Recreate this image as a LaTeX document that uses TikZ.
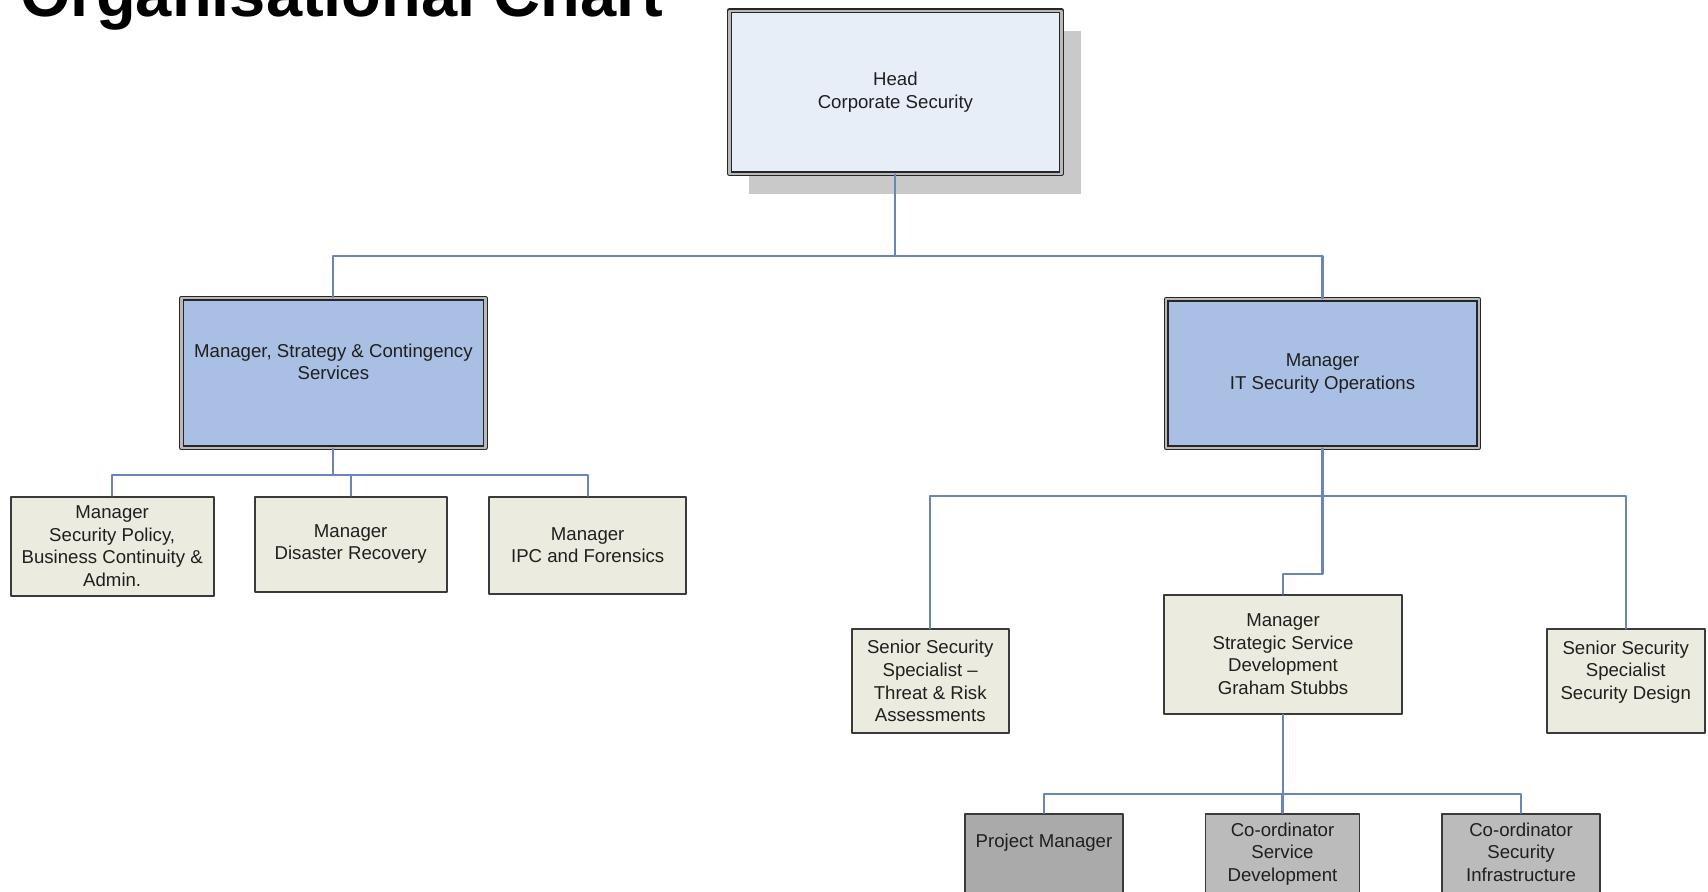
\documentclass[tikz,border=0pt]{standalone}
\usepackage{fontspec}
\setmainfont{Liberation Sans}
\usetikzlibrary{shadows}
\definecolor{headblue}{HTML}{E8EEF8}
\definecolor{mgrblue}{HTML}{A9BFE3}
\definecolor{paleolive}{HTML}{EBEBDF}
\definecolor{pmgray}{HTML}{AAAAAA}
\definecolor{cogray}{HTML}{BBBBBB}
\definecolor{linkblue}{HTML}{6A86B8}
\definecolor{edgedark}{HTML}{3A3A3A}
\def\px{0.02cm}
\begin{document}
\begin{tikzpicture}[x=\px, y=-\px, line join=round, line cap=round,
  every node/.style={font=\fontsize{10.6pt}{12.9pt}\selectfont, text=black!88, align=center, inner sep=0pt},
  boxsize/.style 2 args={minimum width=#1*\px, minimum height=#2*\px},
  lead/.style={draw=black!85, line width=0.9pt, double=gray!55, double distance=1.3pt, fill=mgrblue},
  unit/.style={draw=edgedark, line width=1.1pt, fill=paleolive},
  link/.style={draw=linkblue, line width=1.2pt}]
\useasboundingbox (0,0) rectangle (1708,892);
\clip (0,0) rectangle (1708,892);
\node[anchor=base west, font=\fontsize{37pt}{40pt}\selectfont\bfseries, text=black] (title) at (20,17) {Organisational Chart};

\node[lead, fill=headblue, boxsize={332}{163},
  drop shadow={shadow xshift=0.4cm, shadow yshift=-0.4cm, fill=black!21, opacity=1}] (head) at (895.4,92.2) {Head\\Corporate Security};
\node[lead, boxsize={304}{149.5}] (strat) at (333.4,373) {Manager, Strategy \& Contingency\\Services\\\mbox{}};
\node[lead, boxsize={312.5}{148.5}] (itops) at (1322.5,373.5) {Manager\\IT Security Operations};

\node[unit, boxsize={202.8}{99.4}] (policy) at (112.2,546.3) {Manager\\Security Policy,\\Business Continuity \&\\Admin.};
\node[unit, boxsize={192}{95}] (disaster) at (350.7,544.1) {Manager\\Disaster Recovery};
\node[unit, boxsize={197.4}{97}] (ipc) at (587.7,545.2) {Manager\\IPC and Forensics};

\node[unit, boxsize={157}{103.7}] (threat) at (930.2,681.3) {Senior Security\\Specialist –\\Threat \& Risk\\Assessments};
\node[unit, boxsize={237.6}{119}] (ssd) at (1283,654.2) {Manager\\Strategic Service\\Development\\Graham Stubbs};
\node[unit, boxsize={158}{103.7}] (design) at (1625.7,681.3) {Senior Security\\Specialist\\Security Design\\\mbox{}};

\node[unit, fill=pmgray, boxsize={158}{99}] (pm) at (1044,863.5) {Project Manager\\\mbox{}\\\mbox{}};
\node[unit, fill=cogray, boxsize={154}{99}] (coserv) at (1282.5,863.5) {Co-ordinator\\Service\\Development\\\mbox{}};
\node[unit, fill=cogray, boxsize={158}{99}] (coinfra) at (1521,863.5) {Co-ordinator\\Security\\Infrastructure\\\mbox{}};

\coordinate (topbus) at (895.4,256);
\coordinate (leftbus) at (333.4,475);
\coordinate (rightbus) at (1322.5,495.6);
\coordinate (jog) at (1322.5,574);
\coordinate (lowbus) at (1283,794);

\draw[link] (head.south) -- (topbus);
\draw[link] (strat.north) |- (topbus) -| (itops.north);
\draw[link] (strat.south) -- (leftbus);
\draw[link] (policy.north) |- (leftbus) -| (ipc.north);
\draw[link] (disaster.north) |- (leftbus);
\draw[link] (itops.south) -- (rightbus);
\draw[link] (threat.north) |- (rightbus) -| (design.north);
\draw[link] (rightbus) -- (jog) -| (ssd.north);
\draw[link] (ssd.south) -- (lowbus);
\draw[link] (pm.north) |- (lowbus) -| (coinfra.north);
\draw[link] (coserv.north) |- (lowbus);
\end{tikzpicture}
\end{document}
